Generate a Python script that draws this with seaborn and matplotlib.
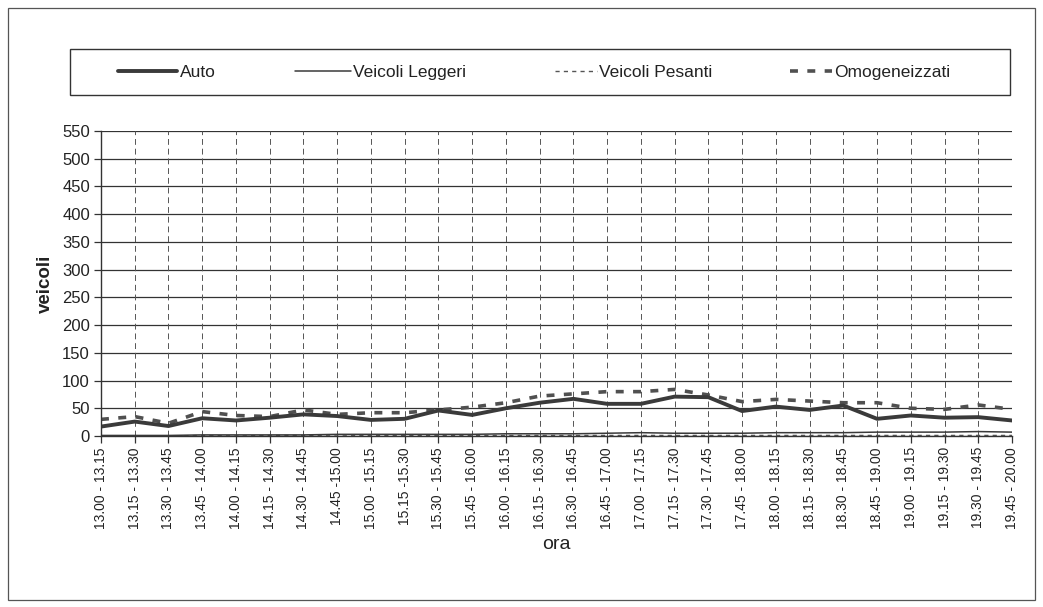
import matplotlib
matplotlib.use("Agg")
import matplotlib.pyplot as plt
from matplotlib.patches import Rectangle
import seaborn as sns
import pandas as pd

# ---- data ----
fasce = ["13.00 - 13.15", "13.15 - 13.30", "13.30 - 13.45", "13.45 - 14.00",
         "14.00 - 14.15", "14.15 - 14.30", "14.30 - 14.45", "14.45 -15.00",
         "15.00 - 15.15", "15.15 -15.30", "15.30 - 15.45", "15.45 - 16.00",
         "16.00 - 16.15", "16.15 - 16.30", "16.30 - 16.45", "16.45 - 17.00",
         "17.00 - 17.15", "17.15 - 17.30", "17.30 - 17.45", "17.45 - 18.00",
         "18.00 - 18.15", "18.15 - 18.30", "18.30 - 18.45", "18.45 - 19.00",
         "19.00 - 19.15", "19.15 - 19.30", "19.30 - 19.45", "19.45 - 20.00"]

auto = [17, 26, 18, 32, 28, 33, 39, 36, 29, 31, 46, 38, 50, 60,
        67, 58, 58, 71, 70, 45, 53, 47, 55, 31, 37, 33, 34, 28]
veicoli_leggeri = [1, 1, 1, 2, 2, 2, 2, 3, 3, 3, 3, 3, 4, 4,
                   4, 5, 6, 5, 5, 5, 6, 6, 6, 7, 7, 7, 8, 7]
veicoli_pesanti = [0, 0, 0, 1, 0, 1, 1, 0, 1, 1, 1, 1, 1, 1,
                   1, 1, 1, 1, 1, 1, 1, 1, 1, 1, 1, 1, 1, 1]
omogeneizzati = [30, 35, 23, 44, 37, 35, 47, 39, 42, 42, 47, 52, 60, 72,
                 76, 80, 80, 84, 74, 62, 66, 63, 60, 60, 50, 48, 56, 48]

y_ticks = list(range(0, 551, 50))
serie = ["Auto", "Veicoli Leggeri", "Veicoli Pesanti", "Omogeneizzati"]

df = pd.DataFrame({"ora": fasce, "Auto": auto, "Veicoli Leggeri": veicoli_leggeri,
                   "Veicoli Pesanti": veicoli_pesanti, "Omogeneizzati": omogeneizzati})

# ---- style ----
sns.set_theme(style="white")
plt.rcParams["font.family"] = ["Liberation Sans", "DejaVu Sans"]

W, H = 1043, 607
fig = plt.figure(figsize=(W / 100, H / 100), dpi=100)
fig.patch.set_facecolor("white")
ax = fig.add_axes([101 / W, 1 - 436 / H, (1012 - 101) / W, (436 - 131) / H])

dark = "#3a3a3a"
styles = {
    "Auto": dict(color=dark, linewidth=2.8, linestyle="-"),
    "Veicoli Leggeri": dict(color=dark, linewidth=1.1, linestyle="-"),
    "Veicoli Pesanti": dict(color="#555555", linewidth=1.0, linestyle=(0, (3, 3))),
    "Omogeneizzati": dict(color="#505050", linewidth=2.6, linestyle=(0, (2.2, 2.6))),
}
for name in ["Veicoli Pesanti", "Veicoli Leggeri", "Omogeneizzati", "Auto"]:
    sns.lineplot(data=df, x="ora", y=name, ax=ax, sort=False, label=name,
                 **styles[name])

ax.set_xlim(0, len(fasce) - 1)
ax.set_ylim(0, 550)
ax.set_yticks(y_ticks)
ax.set_yticklabels([str(v) for v in y_ticks], fontsize=12, color="#222222")
ax.set_xticks(range(len(fasce)))
ax.set_xticklabels(fasce, rotation=90, fontsize=10, color="#222222")

# grid
ax.grid(False)
for v in y_ticks:
    ax.axhline(v, color="#333333", linewidth=0.9, zorder=0)
for i in range(len(fasce)):
    ax.axvline(i, color="#555555", linewidth=0.7, linestyle=(0, (6, 4)), zorder=0)

for s in ["top", "right"]:
    ax.spines[s].set_visible(False)
for s in ["left", "bottom"]:
    ax.spines[s].set_color("#333333")
    ax.spines[s].set_linewidth(1.0)
ax.tick_params(axis="both", which="major", direction="out", length=5,
               width=0.9, color="#333333", pad=3, left=True, bottom=True)

ax.set_xlabel("ora", fontsize=14, color="#222222", labelpad=5)
ax.set_ylabel("veicoli", fontsize=13.5, fontweight="bold", color="#222222", labelpad=6)

# legend: frame + one entry per series at its own place
handles, labels = ax.get_legend_handles_labels()
hmap = dict(zip(labels, handles))
ax.get_legend().remove()
fig.add_artist(Rectangle((70 / W, 1 - 95 / H), (1010 - 70) / W, (95 - 49) / H,
                         transform=fig.transFigure, fill=False,
                         edgecolor="#333333", linewidth=1.0))
starts = {"Auto": 118, "Veicoli Leggeri": 295, "Veicoli Pesanti": 555, "Omogeneizzati": 790}
hlen = {"Auto": 3.4, "Veicoli Leggeri": 3.2, "Veicoli Pesanti": 2.4, "Omogeneizzati": 2.4}
for name in serie:
    lg = fig.legend([hmap[name]], [name], loc="center left",
                    bbox_to_anchor=(starts[name] / W, 1 - 72 / H),
                    frameon=False, fontsize=12.5, handlelength=hlen[name],
                    handletextpad=0.15, borderpad=0, borderaxespad=0)
    for t in lg.get_texts():
        t.set_color("#222222")

# outer border
fig.add_artist(Rectangle((8 / W, 1 - 600 / H), (1035 - 8) / W, (600 - 8) / H,
                         transform=fig.transFigure, fill=False,
                         edgecolor="#555555", linewidth=0.9))

fig.savefig("out.png", dpi=100, facecolor="white")
